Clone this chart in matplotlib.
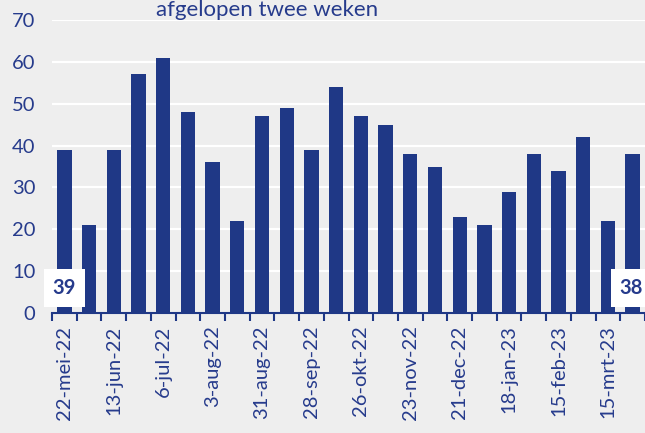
import matplotlib
matplotlib.use("Agg")
import matplotlib.pyplot as plt
import numpy as np

values = [39, 21, 39, 57, 61, 48, 36, 22, 47, 49, 39, 54, 47, 45, 38, 35, 23, 21, 29, 38, 34, 42, 22, 38]
tick_labels = ["22-mei-22", "13-jun-22", "6-jul-22", "3-aug-22", "31-aug-22", "28-sep-22",
               "26-okt-22", "23-nov-22", "21-dec-22", "18-jan-23", "15-feb-23", "15-mrt-23"]
title = "afgelopen twee weken"

bar_color = "#1f3886"
text_color = "#263b8c"
bg = "#eeeeee"

plt.rcParams['font.family'] = ['Lato', 'DejaVu Sans']

fig = plt.figure(figsize=(6.45, 4.33), dpi=100, facecolor=bg)
ax = fig.add_axes([52/645, 120/433, 1 - 52/645, 293/433])
ax.set_facecolor(bg)

x = np.arange(len(values))
ax.bar(x, values, width=0.58, color=bar_color, zorder=3)

ax.set_xlim(-0.5, len(values) - 0.5)
ax.set_ylim(0, 70)
ax.set_yticks(range(0, 71, 10))
ax.yaxis.grid(True, color="white", linewidth=1.6, zorder=0)
ax.tick_params(axis='y', length=0, labelsize=14.5, labelcolor=text_color, pad=12)

for s in ["top", "right", "left"]:
    ax.spines[s].set_visible(False)
ax.spines["bottom"].set_color(bar_color)
ax.spines["bottom"].set_linewidth(1.5)

ax.set_xticks(np.arange(-0.5, len(values), 1), minor=False)
ax.set_xticklabels([])
ax.tick_params(axis='x', which='major', length=6, width=1.5, color=bar_color, direction='out')
ax.set_xticks(x[::2], minor=True)
ax.set_xticklabels(tick_labels, minor=True, rotation=90, fontsize=14.5, color=text_color)
ax.tick_params(axis='x', which='minor', length=0, pad=9)

box = dict(boxstyle="square,pad=0.45", facecolor="white", edgecolor="none")
ax.text(x[0], 6, str(values[0]), ha="center", va="center", fontsize=14.5, fontweight="bold",
        color=text_color, bbox=box, zorder=5)
ax.text(x[-1] - 0.05, 6, str(values[-1]), ha="center", va="center", fontsize=14.5, fontweight="bold",
        color=text_color, bbox=box, zorder=5)

fig.text(267/645, 1 - 10/433, title, ha="center", va="center", fontsize=16, color=text_color)

fig.savefig("out.png", dpi=100, facecolor=bg)
